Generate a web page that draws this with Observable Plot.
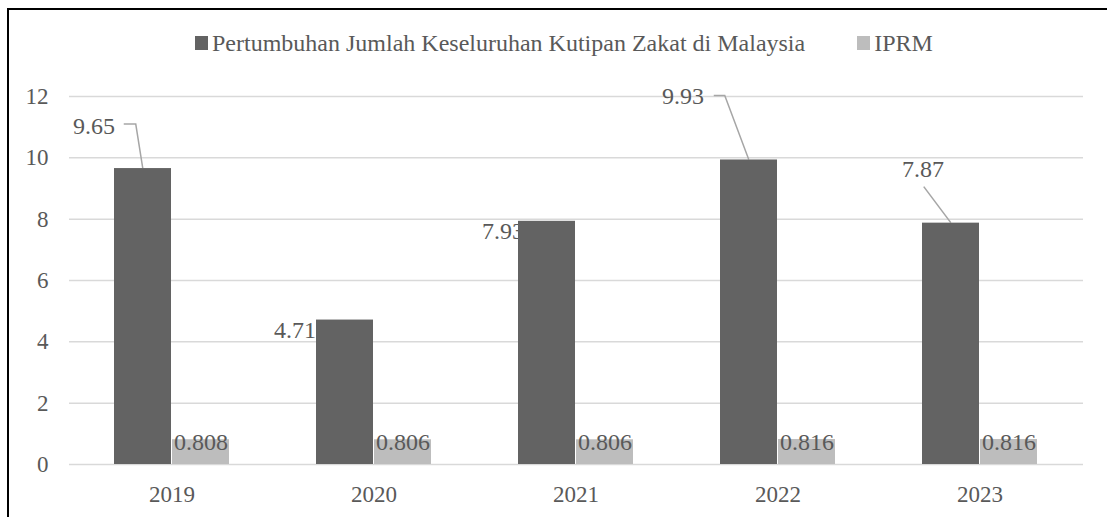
<!DOCTYPE html>
<html>
<head>
<meta charset="utf-8">
<script src="https://cdn.jsdelivr.net/npm/d3@7"></script>
<script src="https://cdn.jsdelivr.net/npm/@observablehq/plot@0.6"></script>
<style>
  html, body { margin: 0; padding: 0; background: #fff; }
  body { width: 1107px; height: 517px; position: relative; overflow: hidden; font-family: "Liberation Serif", "Times New Roman", serif; }
  #frame { position: absolute; left: 7px; top: 8px; width: 1300px; height: 700px; border-left: 2px solid #000; border-top: 2px solid #000; }
  #legend { position: absolute; top: 28px; left: 195px; height: 30px; display: flex; align-items: center; font-size: 24px; color: #595959; line-height: 30px; white-space: nowrap; }
  #legend .sw { display: inline-block; width: 13px; height: 14px; margin-right: 4px; }
  #legend .item { display: flex; align-items: center; }
  #chart { position: absolute; left: 0; top: 80px; }
  #chart svg, #chart svg text { font-family: "Liberation Serif", "Times New Roman", serif !important; }
</style>
</head>
<body>
<div id="frame"></div>
<div id="legend"></div>
<div id="chart"></div>
<script>
const years = ["2019", "2020", "2021", "2022", "2023"];
const seriesNames = ["Pertumbuhan Jumlah Keseluruhan Kutipan Zakat di Malaysia", "IPRM"];
const zakatGrowth = [9.65, 4.71, 7.93, 9.93, 7.87];
const iprm = [0.808, 0.806, 0.806, 0.816, 0.816];
const yTicks = [0, 2, 4, 6, 8, 10, 12];

const colors = ["#636363", "#bdbdbd"];
const textColor = "#595959";
const serif = "\"Liberation Serif\", \"Times New Roman\", serif";

// label placement (pixel offsets from top-centre of the dark bar), styling only
const labelPlacement = [
  {dx: -49, dy: -42, line: [[-19, -44], [-7, -44], [0, 0]]},
  {dx: -50, dy: 10, line: null},
  {dx: -44, dy: 10, line: null},
  {dx: -66, dy: -64, line: [[-35, -64], [-24, -64], [0, 0]]},
  {dx: -28, dy: -54, line: [[-27, -36], [0, 0]]}
];

const zakatRows = years.map((year, i) => ({year, value: zakatGrowth[i]}));
const iprmRows = years.map((year, i) => ({year, value: iprm[i]}));

// legend
const legend = document.getElementById("legend");
seriesNames.forEach((name, i) => {
  const item = document.createElement("span");
  item.className = "item";
  if (i > 0) item.style.marginLeft = "52px";
  const sw = document.createElement("span");
  sw.className = "sw";
  sw.style.background = colors[i];
  const t = document.createElement("span");
  t.textContent = name;
  item.appendChild(sw);
  item.appendChild(t);
  legend.appendChild(item);
});

const halfBar = 58;

const labelMarks = zakatRows.map((d, i) => Plot.text([d], {
  x: "year", y: "value", text: (r) => r.value.toFixed(2),
  dx: labelPlacement[i].dx - halfBar / 2, dy: labelPlacement[i].dy,
  textAnchor: "middle", fontSize: 24, fontFamily: serif, fill: textColor
}));

function leaderLines(index, scales, values, dimensions, context) {
  const g = d3.create("svg:g");
  const bw = scales.x.bandwidth ? scales.x.bandwidth() : 116;
  zakatRows.forEach((d, i) => {
    const p = labelPlacement[i];
    if (!p.line) return;
    const cx = scales.x(d.year) + bw / 4;
    const cy = scales.y(d.value);
    const path = d3.line()(p.line.map(([ox, oy]) => [cx + ox, cy + oy]));
    g.append("path").attr("d", path).attr("fill", "none")
      .attr("stroke", "#a6a6a6").attr("stroke-width", 1.5);
  });
  return g.node();
}

const chart = Plot.plot({
  width: 1107,
  height: 437,
  marginTop: 16,
  marginBottom: 53,
  marginLeft: 69,
  marginRight: 24,
  style: {fontFamily: serif, fontSize: "23px", color: textColor, background: "transparent", overflow: "visible"},
  x: {domain: years, paddingInner: 1 - 116 / 203, paddingOuter: (1 - 116 / 203) / 2},
  y: {domain: [0, 12]},
  marks: [
    Plot.gridY(yTicks, {stroke: "#d9d9d9", strokeOpacity: 1, strokeWidth: 1.5}),
    Plot.axisY(yTicks, {tickSize: 0, tickPadding: 21, label: null, fontSize: 23, fontFamily: serif, fill: textColor, tickFormat: (d) => String(d)}),
    Plot.axisX({tickSize: 0, tickPadding: 21, label: null, fontSize: 23, fontFamily: serif, fill: textColor}),
    ...labelMarks,
    leaderLines,
    Plot.barY(zakatRows, {x: "year", y: "value", fill: colors[0], insetRight: halfBar}),
    Plot.barY(iprmRows, {x: "year", y: "value", fill: colors[1], insetLeft: halfBar}),
    Plot.text(iprmRows, {x: "year", y: "value", text: (r) => r.value.toFixed(3), dx: 2, dy: 3, textAnchor: "start", fontSize: 24, fontFamily: serif, fill: textColor})
  ]
});
document.getElementById("chart").appendChild(chart);
</script>
</body>
</html>
